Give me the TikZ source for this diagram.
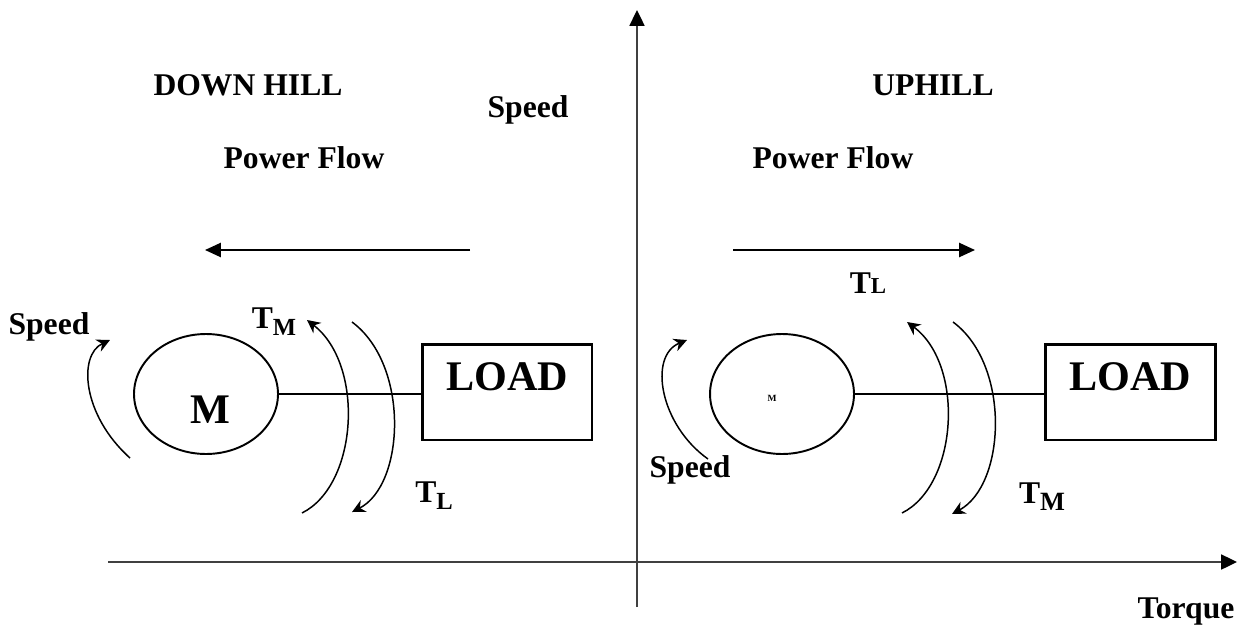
\documentclass[tikz,border=0pt]{standalone}
\usepackage{fontspec}
\setmainfont{Liberation Serif}
\usetikzlibrary{arrows.meta,shapes.geometric}

\newcommand{\torq}[3]{T\raisebox{-#3}{\fontsize{#2}{#2}\selectfont #1}}

\begin{document}
\begin{tikzpicture}
                [x=0.02cm,y=-0.02cm,
                every node/.style={font=\bfseries\fontsize{18}{20}\selectfont,inner sep=0pt},
                axisline/.style={draw=black!75,line width=1.1pt,-{Triangle[length=9pt,width=8.5pt,black]}},
                flow/.style={line width=1.1pt,-{Triangle[length=9pt,width=8pt]}},
                spin/.style={line width=0.85pt,-{Stealth[length=7.5pt,width=7.5pt,inset=2.5pt]}},
                motor/.style={draw,ellipse,line width=1.1pt,minimum width=2.88cm,minimum height=2.4cm},
                loadbox/.style={draw,rectangle,line width=1.7pt,minimum width=3.4cm,minimum height=1.92cm},
                big/.style={font=\bfseries\fontsize{24}{26}\selectfont}]
                \useasboundingbox (0,0) rectangle (1239,635);
                % axes
                \coordinate (yb) at (637,607);
                \coordinate (yt) at (637,10);
                \coordinate (xl) at (108,562);
                \coordinate (xr) at (1237,562);
                \draw[axisline] (yb) -- (yt);
                \draw[axisline] (xl) -- (xr);
                \node (tq) at (1186,612) {Torque};
                \node (spV) at (528,110) {Speed};
                % down hill side
                \node (dh) at (248,85) {DOWN HILL};
                \node (pfL) at (304,158) {Power Flow};
                \coordinate (pfLa) at (470,250);
                \coordinate (pfLb) at (205,250);
                \draw[flow] (pfLa) -- (pfLb);
                \node[motor] (mL) at (206,394) {};
                \node[big] (mtL) at (210,410) {M};
                \node[loadbox] (ldL) at (507,392) {};
                \node[big] (ldtL) at (507,377) {LOAD};
                \draw[line width=1.7pt] (mL.east) -- (mL.east -| ldL.west);
                \node (spL) at (49,327) {Speed};
                \coordinate (sLa) at (130,458);
                \coordinate (sLb) at (110,340);
                \draw[spin] (sLa) .. controls (82,415) and (78,355) .. (sLb);
                \node (tmL) at (274,322) {\torq{M}{14}{4pt}};
                \coordinate (iLa) at (302,513);
                \coordinate (iLb) at (307,320);
                \draw[spin] (iLa) .. controls (358,485) and (365,365) .. (iLb);
                \coordinate (oLa) at (352,322);
                \coordinate (oLb) at (352,512);
                \draw[spin] (oLa) .. controls (410,365) and (405,485) .. (oLb);
                \node (tlL) at (434,496) {\torq{L}{14}{4pt}};
                % uphill side
                \node (uh) at (933,85) {UPHILL};
                \node (pfR) at (833,158) {Power Flow};
                \coordinate (pfRa) at (733,250);
                \coordinate (pfRb) at (975,250);
                \draw[flow] (pfRa) -- (pfRb);
                \node (tlR) at (868,283) {\torq{L}{13}{0pt}};
                \node[motor] (mR) at (782,394) {};
                \node[font=\bfseries\fontsize{5.4}{6}\selectfont] (mtR) at (772,398) {M};
                \node[loadbox] (ldR) at (1130,392) {};
                \node[big] (ldtR) at (1130,377) {LOAD};
                \draw[line width=1.7pt] (mR.east) -- (mR.east -| ldR.west);
                \node (spR) at (690,470) {Speed};
                \coordinate (sRa) at (708,459);
                \coordinate (sRb) at (687,340);
                \draw[spin] (sRa) .. controls (660,425) and (648,356) .. (sRb);
                \coordinate (iRa) at (902,513);
                \coordinate (iRb) at (907,322);
                \draw[spin] (iRa) .. controls (958,485) and (965,365) .. (iRb);
                \coordinate (oRa) at (953,322);
                \coordinate (oRb) at (952,514);
                \draw[spin] (oRa) .. controls (1011,365) and (1006,485) .. (oRb);
                \node (tmR) at (1042,497) {\torq{M}{15}{4pt}};
            \end{tikzpicture}
\end{document}
